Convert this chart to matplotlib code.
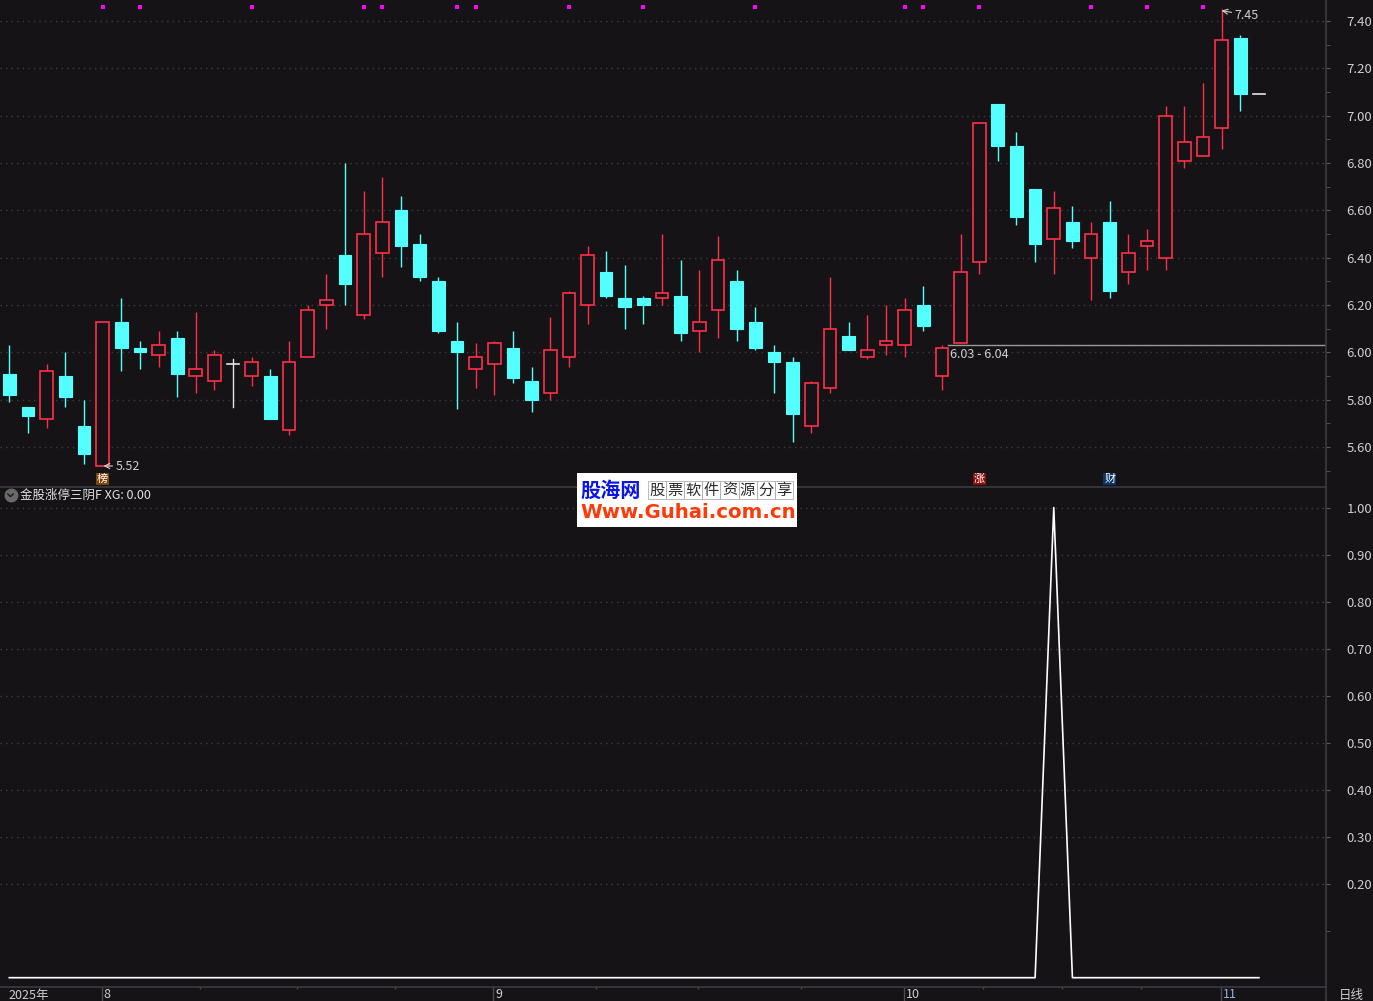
import matplotlib
matplotlib.use("Agg")
import matplotlib.pyplot as plt
from matplotlib.patches import Rectangle
from matplotlib.lines import Line2D
import matplotlib.transforms as mtransforms

plt.rcParams['font.family'] = ['Noto Sans CJK SC', 'DejaVu Sans']

# ---------------- data ----------------
opens = [5.91, 5.77, 5.72, 5.90, 5.69, 5.52, 6.13, 6.02, 5.99, 6.06,
         5.90, 5.88, 5.95, 5.90, 5.90, 5.67, 5.98, 6.20, 6.41, 6.16,
         6.42, 6.60, 6.46, 6.30, 6.05, 5.93, 5.95, 6.02, 5.88, 5.83,
         5.98, 6.20, 6.34, 6.23, 6.23, 6.23, 6.24, 6.09, 6.18, 6.30,
         6.13, 6.00, 5.96, 5.69, 5.85, 6.07, 5.98, 6.03, 6.03, 6.20,
         5.90, 6.04, 6.38, 7.05, 6.87, 6.69, 6.48, 6.55, 6.40, 6.55,
         6.34, 6.45, 6.40, 6.81, 6.83, 6.95, 7.33, 7.09]
highs = [6.03, 5.77, 5.95, 6.00, 5.80, 6.13, 6.23, 6.05, 6.09, 6.09,
         6.17, 6.01, 5.97, 5.98, 5.93, 6.05, 6.20, 6.33, 6.80, 6.68,
         6.74, 6.66, 6.50, 6.32, 6.13, 6.04, 6.05, 6.09, 5.94, 6.15,
         6.26, 6.45, 6.43, 6.37, 6.24, 6.50, 6.39, 6.35, 6.49, 6.35,
         6.19, 6.03, 5.98, 5.88, 6.32, 6.13, 6.16, 6.20, 6.23, 6.28,
         6.03, 6.50, 6.97, 7.05, 6.93, 6.69, 6.68, 6.62, 6.55, 6.64,
         6.50, 6.52, 7.04, 7.04, 7.14, 7.45, 7.34, 7.09]
lows = [5.79, 5.66, 5.68, 5.77, 5.53, 5.52, 5.92, 5.93, 5.94, 5.81,
        5.83, 5.84, 5.77, 5.86, 5.72, 5.65, 5.98, 6.10, 6.20, 6.14,
        6.32, 6.36, 6.30, 6.08, 5.76, 5.85, 5.82, 5.87, 5.75, 5.80,
        5.94, 6.12, 6.23, 6.10, 6.12, 6.20, 6.05, 6.00, 6.06, 6.05,
        6.01, 5.83, 5.62, 5.66, 5.83, 6.01, 5.97, 5.99, 5.98, 6.09,
        5.84, 6.04, 6.33, 6.81, 6.54, 6.38, 6.33, 6.44, 6.22, 6.23,
        6.29, 6.35, 6.35, 6.78, 6.83, 6.86, 7.02, 7.09]
closes = [5.82, 5.73, 5.92, 5.81, 5.57, 6.13, 6.02, 6.00, 6.03, 5.91,
          5.93, 5.99, 5.95, 5.96, 5.72, 5.96, 6.18, 6.22, 6.29, 6.50,
          6.55, 6.45, 6.32, 6.09, 6.00, 5.98, 6.04, 5.89, 5.80, 6.01,
          6.25, 6.41, 6.24, 6.19, 6.20, 6.25, 6.08, 6.13, 6.39, 6.10,
          6.02, 5.96, 5.74, 5.87, 6.10, 6.01, 6.01, 6.05, 6.18, 6.11,
          6.02, 6.34, 6.97, 6.87, 6.57, 6.46, 6.61, 6.47, 6.50, 6.26,
          6.42, 6.47, 7.00, 6.89, 6.91, 7.32, 7.09, 7.09]
xg_values = [0] * 56 + [1] + [0] * 11
signal_dots = [5, 7, 13, 19, 20, 24, 25, 30, 34, 40, 48, 49, 52, 58, 61, 64]
month_starts = [5, 26, 48, 65]
month_labels = ["8", "9", "10", "11"]
price_ticks = [5.60, 5.80, 6.00, 6.20, 6.40, 6.60, 6.80, 7.00, 7.20, 7.40]
xg_ticks = [0.20, 0.30, 0.40, 0.50, 0.60, 0.70, 0.80, 0.90, 1.00]
low_mark = (5, 5.52)
high_mark = (65, 7.45)
gap_low, gap_high, gap_start = 6.03, 6.04, 50
badges = [(5, "榜", "#7a4608"), (52, "涨", "#8c0c0c"), (59, "财", "#0c3466")]

# ---------------- style ----------------
BG = "#151316"
RED = "#ff2e48"
CYAN = "#54ffff"
DOJI = "#e6e6e6"
GRID = "#3e3e42"
SPINE = "#3a3a44"
TXT = "#cfcfcf"

W, H = 1373, 1001
fig = plt.figure(figsize=(W / 100, H / 100), dpi=100, facecolor=BG)

def fx(px):
    return px / W

def fy(py):
    return 1 - py / H

xlim = (-0.5, 70.58)
right_px = 1325.7

ax1 = fig.add_axes([0, fy(487), fx(right_px), 1 - fy(487)], facecolor=BG)
ax2 = fig.add_axes([0, fy(987), fx(right_px), fy(488) - fy(987)], facecolor=BG)

ax1.set_xlim(*xlim)
ax1.set_ylim(5.4313, 7.4887)
ax2.set_xlim(*xlim)
ax2.set_ylim(-0.0198, 1.0415)

for ax in (ax1, ax2):
    for s in ("left", "top"):
        ax.spines[s].set_visible(False)
    ax.spines["right"].set_color(SPINE)
    ax.spines["bottom"].set_color(SPINE)
    ax.spines["right"].set_linewidth(1.2)
    ax.spines["bottom"].set_linewidth(1.2)
    ax.yaxis.tick_right()

# grids
for v in price_ticks:
    ax1.axhline(v, color=GRID, lw=1, ls=(0, (1, 3)), zorder=0)
for v in xg_ticks:
    ax2.axhline(v, color=GRID, lw=1, ls=(0, (1, 3)), zorder=0)

# y ticks
ax1.set_yticks(price_ticks)
ax1.set_yticklabels([f"{v:.2f}" for v in price_ticks])
ax1.set_yticks([v + 0.1 for v in price_ticks[:-1]] + [5.5], minor=True)
ax2.set_yticks(xg_ticks)
ax2.set_yticklabels([f"{v:.2f}" for v in xg_ticks])
ax2.set_yticks([0.1], minor=True)
for ax in (ax1, ax2):
    ax.tick_params(axis="y", which="both", direction="out", length=3,
                   color="#5a5a66", labelcolor=TXT, labelsize=9.5, pad=12)
    ax.tick_params(axis="y", which="minor", labelright=False)

ax1.set_xticks([])
# x ticks on bottom panel
ax2.set_xticks([m - 0.05 for m in month_starts])
ax2.set_xticklabels([])
minor_x = []
bounds = month_starts
for a, b in zip(bounds[:-1], bounds[1:]):
    for k in (1, 2, 3):
        minor_x.append(a - 0.05 + (b - a) * k / 4)
ax2.set_xticks(minor_x, minor=True)
ax2.tick_params(axis="x", which="major", length=10, color="#4a4a55", width=1)
ax2.tick_params(axis="x", which="minor", length=1.6, color="#4a4a55", width=1)

# ---------------- candles ----------------
bw = 0.68
for i, (o, h, l, c) in enumerate(zip(opens, highs, lows, closes)):
    if c > o:
        col = RED
        ax1.plot([i, i], [l, h], color=col, lw=1, zorder=2, solid_capstyle="butt")
        ax1.add_patch(Rectangle((i - bw / 2, o), bw, c - o, facecolor=BG,
                                edgecolor=col, lw=1.2, zorder=3))
    elif c < o:
        col = CYAN
        ax1.plot([i, i], [l, h], color=col, lw=1, zorder=2, solid_capstyle="butt")
        ax1.add_patch(Rectangle((i - bw / 2, c), bw, o - c, facecolor=col,
                                edgecolor=col, lw=0.8, zorder=3))
    else:
        col = DOJI
        if h > l:
            ax1.plot([i, i], [l, h], color=col, lw=1, zorder=2)
        ax1.plot([i - bw / 2, i + bw / 2], [c, c], color=col, lw=1.2, zorder=3)

# signal dots on top
ax1.scatter(signal_dots, [7.459] * len(signal_dots), marker="s", s=6,
            color="#ff00ff", linewidths=0, zorder=4, clip_on=False)

# annotations
ax1.annotate(f"{low_mark[1]:.2f}", xy=(low_mark[0] + 0.05, low_mark[1]),
             xytext=(low_mark[0] + 0.68, low_mark[1]),
             va="center", ha="left", color=TXT, fontsize=9,
             arrowprops=dict(arrowstyle="->", color=TXT, lw=0.8,
                             shrinkA=0, shrinkB=0))
ax1.annotate(f"{high_mark[1]:.2f}", xy=(high_mark[0], 7.444),
             xytext=(high_mark[0] + 0.68, 7.425),
             va="center", ha="left", color=TXT, fontsize=9,
             arrowprops=dict(arrowstyle="->", color=TXT, lw=0.8,
                             shrinkA=0, shrinkB=0))
ax1.plot([gap_start + 0.35, xlim[1]], [6.032, 6.032], color="#9a9a9a", lw=1, zorder=2)
ax1.text(gap_start + 0.42, 5.993, f"{gap_low:.2f} - {gap_high:.2f}",
         color=TXT, fontsize=9, va="center", ha="left")

for idx, ch, bc in badges:
    ax1.text(idx, 5.465, ch, color="white", fontsize=8, ha="center", va="center",
             bbox=dict(boxstyle="square,pad=0.08", facecolor=bc, edgecolor="none"),
             zorder=5)

# ---------------- XG line ----------------
ax2.plot(range(len(xg_values)), xg_values, color="white", lw=1.2, zorder=3)

# ---------------- texts ----------------
# bottom-panel header
fig.add_artist(Line2D([fx(10.5)], [fy(495)], marker="o", markersize=9,
                      color="#6a6a6a", transform=fig.transFigure))
fig.add_artist(Line2D([fx(7.8), fx(10.5), fx(13.2)], [fy(494), fy(496.6), fy(494)],
                      color="#1a1a1a", lw=1, transform=fig.transFigure))
fig.text(fx(20), fy(495), "金股涨停三阴F XG: 0.00", color="#e2e2e2",
         fontsize=9, va="center", ha="left")

# x axis labels
fig.text(fx(8), fy(995), "2025年", color=TXT, fontsize=9, va="center", ha="left")
trans = mtransforms.blended_transform_factory(ax2.transData, fig.transFigure)
for m, lab in zip(month_starts, month_labels):
    ax2.text(m + 0.05, fy(995), lab, color=TXT if lab != "11" else "#8fb4e8",
             fontsize=9, va="center", ha="left", transform=trans, clip_on=False)
fig.text(fx(1339), fy(995), "日线", color=TXT, fontsize=9, va="center", ha="left")

# right separator extends through label row
fig.add_artist(Line2D([fx(right_px), fx(right_px)], [0, fy(987)], color=SPINE,
                      lw=1.2, transform=fig.transFigure))

# ---------------- watermark ----------------
fig.add_artist(Rectangle((fx(577), fy(527)), fx(220), fy(473) - fy(527),
                         facecolor="white", edgecolor="none",
                         transform=fig.transFigure, zorder=10))
fig.text(fx(580), fy(490), "股海网", color="#0a14e6", fontsize=14.5,
         fontweight="bold", va="center", ha="left", zorder=11)
chars = "股票软件资源分享"
cw = 18.1
for k, ch in enumerate(chars):
    x0 = 648 + k * cw
    fig.add_artist(Rectangle((fx(x0), fy(499)), fx(cw), fy(481) - fy(499),
                             facecolor="none", edgecolor="#b0b0b0", lw=0.6,
                             transform=fig.transFigure, zorder=11))
    fig.text(fx(x0 + cw / 2), fy(490), ch, color="#2a2a2a", fontsize=11,
             va="center", ha="center", zorder=12)
fig.text(fx(580), fy(513), "Www.Guhai.com.cn", color="#ff3a0a", fontsize=14.2,
         fontweight="bold", family="DejaVu Sans", va="center", ha="left", zorder=11)

fig.savefig("out.png", dpi=100, facecolor=BG)
